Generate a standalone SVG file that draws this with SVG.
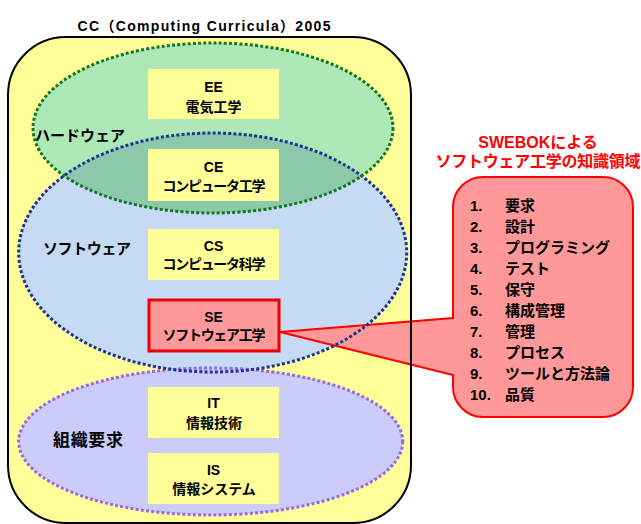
<svg xmlns="http://www.w3.org/2000/svg" width="641" height="524" viewBox="0 0 641 524">
<style>
text{font-family:"Liberation Sans","Noto Sans CJK JP",sans-serif;font-weight:bold;fill:#000}
.bx text{font-size:14px;text-anchor:middle}
.box{fill:#ffff99}
.lbl{font-size:15px}
.li{font-size:15px}
.red{fill:#ff0000;font-size:16px;text-anchor:middle}
.dot{fill:none;stroke-width:3;stroke-dasharray:3 2.2}
</style>
<defs>
<clipPath id="swclip"><ellipse cx="212.7" cy="252.5" rx="194" ry="119.5"/></clipPath>
</defs>
<text x="204" y="31" font-size="14" text-anchor="middle" textLength="253">CC（Computing Curricula）2005</text>
<g id="cc">
<rect x="8" y="37" width="403" height="486" rx="58" ry="58" fill="#ffff99"/>
</g>
<g id="software">
<ellipse cx="212.7" cy="252.5" rx="194" ry="119.5" fill="#c6daf4"/>
</g>
<g id="hardware">
<ellipse cx="213" cy="128" rx="180" ry="85" fill="#aee8b6"/>
<ellipse cx="213" cy="128" rx="180" ry="85" fill="#8cc8aa" clip-path="url(#swclip)"/>
</g>
<g id="org">
<ellipse cx="210.7" cy="441.5" rx="192" ry="73.5" fill="#ccccf8"/>
</g>
<g id="connectors">
<path d="M483,177 H603 A30,30 0 0 1 633,207 V387 A30,30 0 0 1 603,417 H483 A30,30 0 0 1 453,387 V375 L280,332 L453,318 V207 A30,30 0 0 1 483,177 Z" fill="#ff9999" stroke="#ff0000" stroke-width="2"/>
</g>
<ellipse class="dot" cx="210.7" cy="441.5" rx="192" ry="73.5" stroke="#9966ee"/>
<ellipse class="dot" cx="212.7" cy="252.5" rx="194" ry="119.5" stroke="#1a3399"/>
<ellipse class="dot" cx="213" cy="128" rx="180" ry="85" stroke="#117722"/>
<rect x="8" y="37" width="403" height="486" rx="58" ry="58" fill="none" stroke="#000" stroke-width="2"/>
<text class="lbl" x="35" y="141" textLength="90">ハードウェア</text>
<text class="lbl" x="43" y="254" textLength="88">ソフトウェア</text>
<text x="53" y="446" font-size="17" textLength="70">組織要求</text>
<g id="ee" class="bx"><rect class="box" x="148" y="69" width="131" height="50"/><text x="213.5" y="92">EE</text><text x="213.5" y="112">電気工学</text></g>
<g id="ce" class="bx"><rect class="box" x="148" y="149" width="131" height="52"/><text x="213.5" y="172">CE</text><text x="214" y="191" textLength="103">コンピュータ工学</text></g>
<g id="cs" class="bx"><rect class="box" x="148" y="229" width="131" height="51"/><text x="213.5" y="251">CS</text><text x="214" y="269" textLength="103">コンピュータ科学</text></g>
<g id="se" class="bx"><rect x="149" y="300" width="130" height="51" fill="#ff9999" stroke="#ee0000" stroke-width="3"/><text x="213.5" y="322">SE</text><text x="214" y="340" textLength="103">ソフトウェア工学</text></g>
<g id="it" class="bx"><rect class="box" x="148" y="387" width="131" height="51"/><text x="213.5" y="408">IT</text><text x="214" y="428">情報技術</text></g>
<g id="is" class="bx"><rect class="box" x="148" y="453" width="131" height="51"/><text x="213.5" y="475">IS</text><text x="214" y="494">情報システム</text></g>
<g id="swebok">
<text class="red" x="538" y="148">SWEBOKによる</text>
<text class="red" x="538" y="167" textLength="205">ソフトウェア工学の知識領域</text>
<text class="li" x="470" y="211">1.</text><text class="li" x="505" y="211">要求</text>
<text class="li" x="470" y="232">2.</text><text class="li" x="505" y="232">設計</text>
<text class="li" x="470" y="253">3.</text><text class="li" x="505" y="253">プログラミング</text>
<text class="li" x="470" y="274">4.</text><text class="li" x="505" y="274">テスト</text>
<text class="li" x="470" y="295">5.</text><text class="li" x="505" y="295">保守</text>
<text class="li" x="470" y="316">6.</text><text class="li" x="505" y="316">構成管理</text>
<text class="li" x="470" y="337">7.</text><text class="li" x="505" y="337">管理</text>
<text class="li" x="470" y="358">8.</text><text class="li" x="505" y="358">プロセス</text>
<text class="li" x="470" y="379">9.</text><text class="li" x="505" y="379">ツールと方法論</text>
<text class="li" x="470" y="400">10.</text><text class="li" x="505" y="400">品質</text>
</g>
</svg>
